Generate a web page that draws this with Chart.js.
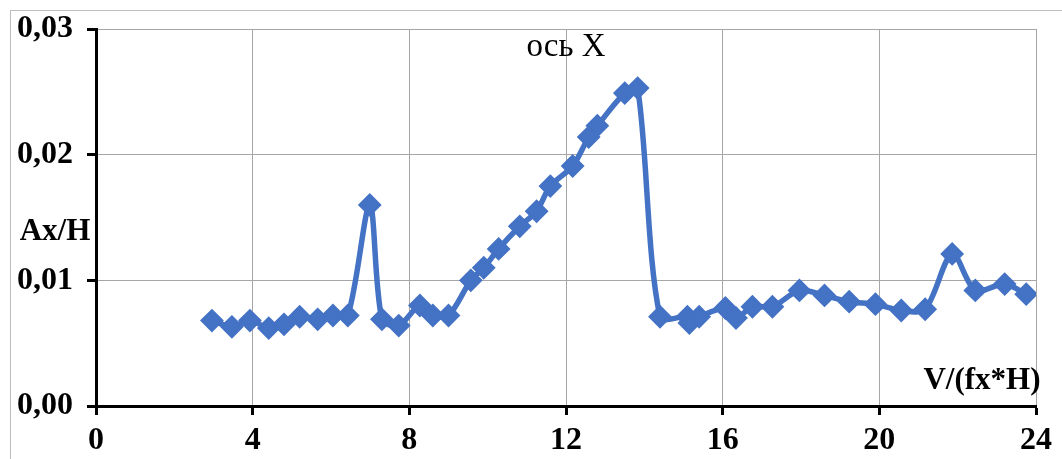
<!DOCTYPE html>
<html>
<head>
<meta charset="utf-8">
<script src="https://cdn.jsdelivr.net/npm/chart.js@4/dist/chart.umd.min.js"></script>
<style>
  html, body { margin: 0; padding: 0; background: #fff; }
  #wrap { width: 1062px; height: 459px; position: relative; }
</style>
</head>
<body>
<div id="wrap"><canvas id="ampChart"></canvas></div>
<script>
// Relative amplitude vs reduced velocity, X axis
const xValues = [2.96, 3.47, 3.93, 4.41, 4.8, 5.2, 5.66, 6.05, 6.43, 6.99, 7.3, 7.73,
    8.27, 8.6, 9.0, 9.57, 9.9, 10.28, 10.82, 11.25, 11.6, 12.17, 12.58, 12.8, 13.5, 13.83,
    14.4, 15.1, 15.15, 15.4, 16.07, 16.34, 16.76, 17.27, 17.96, 18.6, 19.23, 19.9,
    20.56, 21.17, 21.86, 22.45, 23.2, 23.75];
const yValues = [0.0068, 0.0063, 0.0068, 0.0062, 0.0065, 0.0071, 0.0069, 0.0072, 0.0072, 0.0160, 0.0069, 0.0064,
    0.0080, 0.0072, 0.0072, 0.0100, 0.0110, 0.0125, 0.0143, 0.0155, 0.0175, 0.0191, 0.0214, 0.0223, 0.0249, 0.0253,
    0.0071, 0.0071, 0.0066, 0.0071, 0.0078, 0.0070, 0.0079, 0.0079, 0.0092, 0.0088, 0.0083, 0.0081,
    0.0076, 0.0077, 0.0121, 0.0092, 0.0097, 0.0089];
const xTicks = [0, 4, 8, 12, 16, 20, 24];
const yTicks = [0, 0.01, 0.02, 0.03];

const BLUE = '#4472C4';
const serif = '"Liberation Serif", "Times New Roman", serif';

// axis captions and the frame around the chart
const captions = {
    id: 'captions',
    beforeDraw(chart) {
        const ctx = chart.ctx;
        ctx.save();
        ctx.strokeStyle = '#bdbdbd';
        ctx.lineWidth = 1;
        ctx.strokeRect(10.5, 10.5, chart.width, chart.height);
        ctx.restore();
    },
    afterDraw(chart) {
        const ctx = chart.ctx;
        const a = chart.chartArea;
        ctx.save();
        ctx.fillStyle = '#000';
        ctx.textBaseline = 'middle';
        ctx.textAlign = 'center';
        ctx.font = 'bold 31px ' + serif;
        ctx.fillText('Ax/H', 55, a.top + 203);
        ctx.fillText('V/(fx*H)', a.right - 54, a.bottom - 25);
        ctx.font = '33px ' + serif;
        ctx.fillText('ось X', 566, a.top + 18);
        ctx.restore();
    }
};

const ctx = document.getElementById('ampChart').getContext('2d');
new Chart(ctx, {
    type: 'scatter',
    data: {
        datasets: [{
            data: xValues.map((x, i) => ({ x: x, y: yValues[i] })),
            showLine: true,
            borderColor: BLUE,
            backgroundColor: BLUE,
            borderWidth: 5.5,
            tension: 0.3,
            pointStyle: 'rectRot',
            pointRadius: 10.5,
            pointBorderWidth: 2,
            pointBorderColor: BLUE,
            pointBackgroundColor: BLUE
        }]
    },
    options: {
        responsive: true,
        maintainAspectRatio: false,
        animation: false,
        layout: { padding: { top: 29, right: 26, left: 0, bottom: 0 } },
        plugins: { legend: { display: false }, tooltip: { enabled: false } },
        scales: {
            x: {
                type: 'linear',
                min: xTicks[0],
                max: xTicks[xTicks.length - 1],
                afterFit: s => { s.height = 53; },
                afterBuildTicks: s => { s.ticks = xTicks.map(v => ({ value: v })); },
                border: { color: '#000', width: 3 },
                grid: { color: '#a6a6a6', lineWidth: 1, tickColor: '#000', tickWidth: 3, tickLength: 9 },
                ticks: {
                    color: '#000',
                    padding: 7,
                    maxRotation: 0,
                    font: { family: serif, size: 32, weight: 'bold' }
                }
            },
            y: {
                min: yTicks[0],
                max: yTicks[yTicks.length - 1],
                afterFit: s => { s.width = 96; s.paddingTop = 0; s.paddingBottom = 0; },
                afterBuildTicks: s => { s.ticks = yTicks.map(v => ({ value: v })); },
                border: { color: '#000', width: 3 },
                grid: { color: '#a6a6a6', lineWidth: 1, tickColor: '#000', tickWidth: 3, tickLength: 9 },
                ticks: {
                    color: '#000',
                    padding: 14,
                    font: { family: serif, size: 32, weight: 'bold' },
                    callback: v => v.toFixed(2).replace('.', ',')
                }
            }
        }
    },
    plugins: [captions]
});
</script>
</body>
</html>
